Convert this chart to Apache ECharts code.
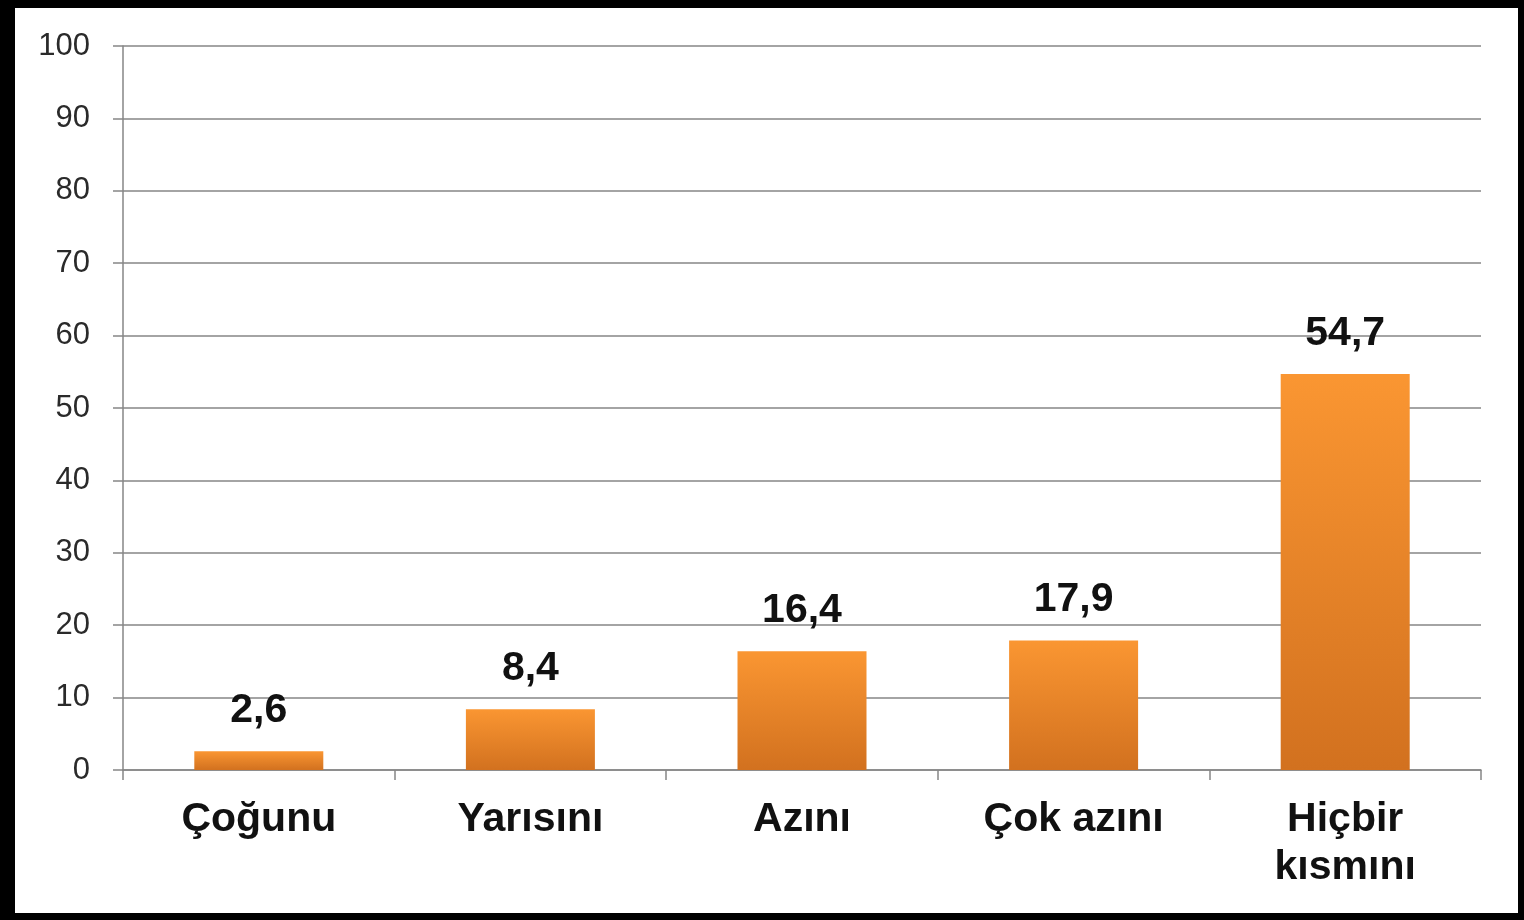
<!DOCTYPE html>
<html>
<head>
<meta charset="utf-8">
<script src="https://cdn.jsdelivr.net/npm/echarts@6/dist/echarts.min.js"></script>
<style>
    html, body { margin: 0; padding: 0; }
    #frame { position: relative; width: 1524px; height: 920px; background: #000; }
    #main { position: absolute; left: 15px; top: 8px; width: 1503px; height: 905px; background: #fff; }
</style>
</head>
<body>
<div id="frame"><div id="main"></div></div>
<script>
// kategoriler ve yüzde değerleri
var categories = ['Çoğunu', 'Yarısını', 'Azını', 'Çok azını', 'Hiçbir\nkısmını'];
var values = [2.6, 8.4, 16.4, 17.9, 54.7];

var chart = echarts.init(document.getElementById('main'));

chart.setOption({
    animation: false,
    grid: { left: 108, right: 37, top: 38, bottom: 143 },
    xAxis: {
        type: 'category',
        data: categories,
        axisLine: { lineStyle: { color: '#868686', width: 1.5 } },
        axisTick: { show: true, length: 10, lineStyle: { color: '#868686', width: 1.5 } },
        axisLabel: {
            margin: 26,
            fontFamily: 'Liberation Sans, Arial, sans-serif',
            fontSize: 41,
            fontWeight: 'bold',
            color: '#111',
            lineHeight: 48
        }
    },
    yAxis: {
        type: 'value',
        min: 0,
        max: 100,
        interval: 10,
        axisLine: { show: true, lineStyle: { color: '#868686', width: 1.5 } },
        axisTick: { show: true, length: 10, lineStyle: { color: '#868686', width: 1.5 } },
        axisLabel: {
            margin: 33,
            fontFamily: 'Liberation Sans, Arial, sans-serif',
            fontSize: 31,
            color: '#2a2a2a'
        },
        splitLine: { lineStyle: { color: '#868686', width: 1.5 } }
    },
    series: [{
        type: 'bar',
        data: values,
        barWidth: 129,
        itemStyle: {
            color: new echarts.graphic.LinearGradient(0, 0, 0, 1, [
                { offset: 0, color: '#FA9632' },
                { offset: 1, color: '#D2711F' }
            ])
        },
        label: {
            show: true,
            position: 'top',
            distance: 20,
            fontFamily: 'Liberation Sans, Arial, sans-serif',
            fontSize: 41,
            fontWeight: 'bold',
            color: '#111',
            formatter: function (p) {
                return String(p.value).replace('.', ',');
            }
        }
    }]
});
</script>
</body>
</html>
